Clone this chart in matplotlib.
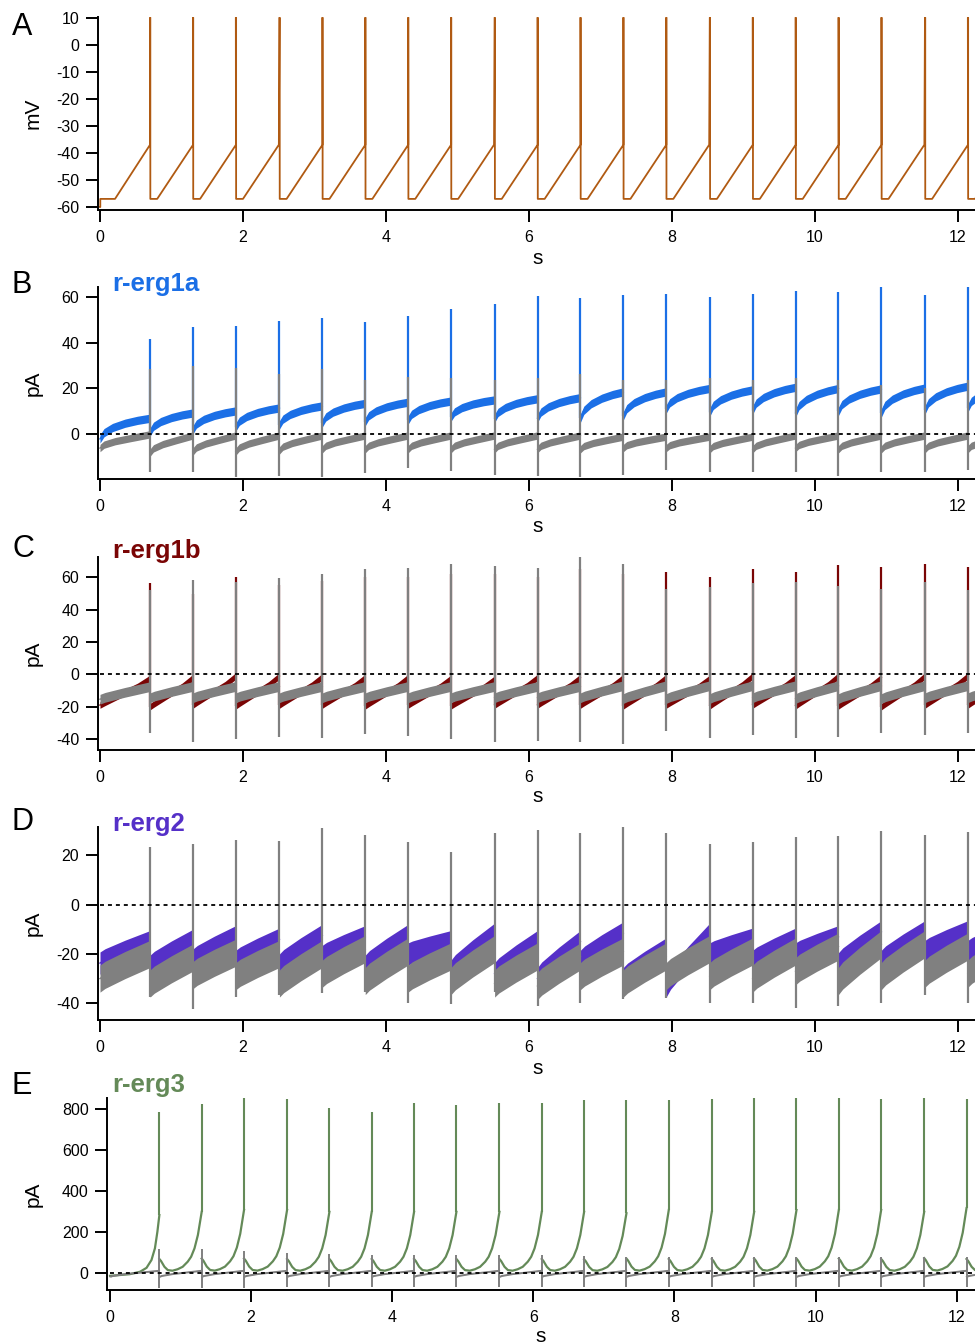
import numpy as np
import matplotlib
matplotlib.use("Agg")
import matplotlib.pyplot as plt

plt.rcParams['font.family'] = ['Liberation Sans', 'DejaVu Sans']
plt.rcParams['axes.unicode_minus'] = False

# ---------------- data ----------------
spike_t = [0.70, 1.30, 1.90, 2.51, 3.11, 3.71, 4.31, 4.91, 5.52, 6.12,
           6.72, 7.32, 7.92, 8.53, 9.13, 9.73, 10.33, 10.93, 11.54, 12.14]
cycle_len = 0.602

# Panel A: voltage protocol (mV)
v_init = -60.0
v_hold = -57.0
v_ramp_top = -37.0
v_spike = 10.0
first_ramp_start = 0.21
hold_after_spike = 0.10
spike_width = 0.004

# Panel B: r-erg1a (pA) ; 21 segments (before first spike ... after last)
b_col_start = [-2.0, 1.0, 2.0, 3.2, 4.1, 5.0, 5.5, 6.2, 7.5, 7.0, 7.0,
               7.0, 8.0, 11.0, 9.7, 10.6, 9.3, 10.0, 9.3, 10.6, 11.5]
b_col_end = [7.0, 9.3, 10.2, 11.5, 12.4, 13.5, 14.0, 14.5, 15.0, 15.5, 16.0,
             18.5, 18.5, 20.0, 19.4, 20.5, 20.0, 19.8, 20.2, 21.0, 21.0]
b_col_peak = [41.6, 46.7, 47.2, 49.4, 50.6, 48.8, 51.6, 54.5, 56.8, 60.3,
              59.3, 60.7, 61.2, 60.0, 61.0, 62.5, 62.0, 64.8, 60.7, 64.5]
b_grey_start = [-6.0, -8.0, -7.5, -7.5, -7.0, -6.5, -6.5, -6.5, -6.5, -6.5, -6.5,
                -6.5, -6.0, -6.0, -6.5, -6.5, -6.0, -6.5, -6.5, -6.5, -6.5]
b_grey_end = [0.0, -0.5, -0.5, -0.5, -0.5, -0.5, -0.5, -0.5, -0.5, -0.5, -0.5,
              -1.0, -1.0, -1.0, -1.0, -0.5, -0.5, -0.5, -0.5, -0.5, -0.5]
b_grey_peak = [28.5, 29.8, 29.0, 26.3, 28.5, 23.7, 25.0, 24.5, 23.7, 24.7,
               26.3, 23.7, 23.7, 24.5, 23.7, 24.5, 23.7, 21.5, 20.0, 23.7]
b_grey_trough = [-16.3, -16.3, -18.8, -18.0, -18.5, -16.7, -14.8, -16.0, -17.8, -18.2,
                 -18.5, -17.8, -15.6, -16.3, -16.3, -16.3, -18.0, -16.3, -16.5, -15.6]

# Panel C: r-erg1b (pA)
c_col_start = [-19.0, -20.0, -19.0, -19.5, -19.0, -19.0, -19.5, -19.0, -19.5, -19.0, -19.0,
               -19.0, -19.5, -19.0, -19.5, -19.0, -19.5, -19.5, -20.0, -19.0, -19.0]
c_col_end = [-2.5, -2.0, -1.0, -1.0, -1.5, -2.0, -2.0, -2.5, -3.0, -2.0, -2.0,
             -2.0, -2.0, -2.5, -1.0, -2.0, -1.0, -2.0, -1.0, -1.0, -1.0]
c_col_peak = [56.2, 50.0, 60.0, 55.0, 58.0, 60.0, 60.0, 62.0, 62.0, 60.0,
              65.0, 62.0, 63.0, 60.4, 65.0, 63.5, 67.4, 66.1, 68.2, 66.5]
c_grey_start = [-15.4, -14.5, -14.5, -14.5, -14.5, -14.5, -14.5, -14.5, -14.5, -14.5, -14.5,
                -14.5, -15.0, -15.0, -15.0, -14.5, -15.0, -15.0, -15.0, -14.5, -14.5]
c_grey_end = [-7.6, -7.5, -7.5, -7.5, -7.5, -7.5, -7.5, -7.5, -7.5, -7.5, -7.5,
              -7.0, -7.0, -7.0, -7.0, -7.0, -7.0, -7.0, -7.0, -7.0, -7.0]
c_grey_peak = [52.0, 58.3, 57.3, 59.3, 62.3, 65.0, 66.0, 68.0, 67.0, 66.0,
               73.0, 68.2, 53.0, 54.0, 56.2, 57.3, 54.6, 52.6, 57.3, 52.0]
c_grey_trough = [-36.5, -41.6, -40.0, -38.6, -39.6, -37.0, -38.0, -40.0, -42.0, -41.0,
                 -42.0, -43.0, -34.8, -39.6, -37.5, -39.6, -38.6, -36.5, -37.5, -36.0]

# Panel D: r-erg2 (pA)
d_col_start = [-23.7, -25.0, -22.5, -23.0, -24.5, -21.0, -25.0, -20.0, -27.0, -28.0, -30.0,
               -23.0, -30.0, -33.0, -20.0, -23.0, -20.0, -24.0, -23.0, -19.0, -19.0]
d_col_end = [-15.0, -14.5, -13.0, -14.0, -12.5, -13.0, -12.5, -15.0, -12.0, -15.0, -15.0,
             -11.5, -18.0, -12.0, -14.0, -14.0, -13.0, -11.0, -11.0, -11.0, -11.0]
d_grey_start = [-30.0, -32.0, -28.6, -29.0, -32.0, -28.0, -31.0, -30.0, -31.0, -32.0, -33.0,
                -29.0, -32.0, -29.0, -29.0, -30.0, -27.0, -31.0, -29.0, -28.0, -28.0]
d_grey_end = [-20.0, -21.5, -19.5, -20.0, -20.0, -18.0, -19.0, -21.0, -18.0, -21.0, -21.0,
              -19.0, -21.0, -18.0, -19.0, -19.0, -17.0, -16.0, -16.0, -17.0, -17.0]
d_grey_peak = [23.5, 24.5, 26.2, 25.8, 31.2, 28.3, 25.3, 21.2, 28.9, 30.5,
               28.9, 31.4, 29.2, 24.6, 25.3, 27.6, 28.0, 29.9, 28.3, 29.4]
d_grey_trough = [-37.5, -42.3, -37.5, -36.6, -36.0, -35.3, -40.0, -40.3, -35.3, -41.0,
                 -39.8, -38.4, -38.0, -39.8, -39.8, -42.0, -41.2, -40.0, -36.6, -40.0]

# Panel E: r-erg3 (pA)
e_first_frac = [0.0, 0.40, 0.61, 0.74, 0.84, 0.91, 0.96, 1.0]
e_first_val = [-12.0, -4.0, 8.0, 27.0, 65.0, 122.0, 203.0, 284.0]
e_cycle_frac = [0.0, 0.04, 0.12, 0.20, 0.31, 0.43, 0.55, 0.67, 0.75, 0.83, 0.91, 1.0]
e_cycle_val = [70.0, 60.0, 32.0, 16.0, 13.0, 20.0, 32.0, 57.0, 81.0, 122.0, 187.0, 300.0]
e_col_end = [284, 300, 309, 309, 300, 300, 300, 300, 300, 300, 300,
             293, 309, 300, 300, 309, 309, 309, 300, 318, 300]
e_col_peak = [785, 824, 857, 850, 805, 785, 830, 820, 830, 830,
              845, 845, 845, 849, 853, 861, 853, 849, 853, 849]
e_grey_start = -16.0
e_grey_end = 14.0
e_grey_peak = [120, 120, 110, 100, 95, 90, 90, 90, 90, 90,
               85, 80, 80, 80, 80, 80, 80, 80, 80, 80]
e_grey_trough = [-72, -70, -70, -68, -68, -66, -66, -66, -66, -66,
                 -66, -65, -65, -65, -65, -65, -65, -65, -65, -65]

# cycle shape templates (fraction of cycle -> fraction of start->end change)
shape_b_col = ([0.0, 0.08, 0.25, 0.5, 0.75, 1.0], [0.0, 0.3, 0.55, 0.76, 0.9, 1.0])
shape_b_grey = ([0.0, 0.08, 0.3, 0.6, 1.0], [0.0, 0.25, 0.5, 0.72, 1.0])
shape_c_col = ([0.0, 0.1, 0.4, 0.75, 1.0], [0.0, 0.1, 0.38, 0.7, 1.0])
shape_c_grey = ([0.0, 0.1, 0.5, 1.0], [0.0, 0.15, 0.55, 1.0])
shape_d = ([0.0, 0.1, 0.5, 1.0], [0.0, 0.15, 0.55, 1.0])
shape_e_grey = ([0.0, 0.05, 0.3, 1.0], [0.0, 0.15, 0.45, 1.0])

# colours
C_A = '#B05A12'
C_BLUE = '#1B6FE6'
C_RED = '#7A0505'
C_PURPLE = '#5530C8'
C_GREEN = '#648A58'
C_GREY = '#808080'

W, H = 975, 1344
fig = plt.figure(figsize=(W / 100, H / 100), dpi=100)


def add_ax(left, top, right, bottom):
    return fig.add_axes([left / W, 1 - bottom / H, (right - left) / W, (bottom - top) / H])


def style(ax, xlim, ylim, yticks):
    ax.set_xlim(*xlim)
    ax.set_ylim(*ylim)
    for s in ['top', 'right']:
        ax.spines[s].set_visible(False)
    for s in ['left', 'bottom']:
        ax.spines[s].set_linewidth(1.4)
    ax.set_xticks([0, 2, 4, 6, 8, 10, 12])
    ax.set_yticks(yticks)
    ax.tick_params(axis='x', direction='out', length=8.5, width=1.4, labelsize=11.5, pad=6)
    ax.tick_params(axis='y', direction='out', length=8.5, width=1.4, labelsize=11.5, pad=5)
    ax.patch.set_alpha(0)


def seg_bounds(k):
    t0 = 0.0 if k == 0 else spike_t[k - 1]
    t1 = spike_t[k] if k < len(spike_t) else t0 + cycle_len
    return t0, t1


def seg_curve(k, shape, start, end):
    t0, t1 = seg_bounds(k)
    fr, vv = shape
    x = [t0 + f * (t1 - t0) for f in fr]
    y = [start + v * (end - start) for v in vv]
    return np.array(x), np.array(y)


def draw_banded(ax, shape, starts, ends, hw, color, z):
    for k in range(len(starts)):
        x, y = seg_curve(k, shape, starts[k], ends[k])
        ax.fill_between(x, y - hw, y + hw, color=color, lw=0, zorder=z)
        ax.plot(x, y, color=color, lw=1.0, zorder=z)


def draw_spikes(ax, lows, highs, color, z, lw=1.6):
    for k, t in enumerate(spike_t):
        ax.plot([t, t], [lows[k], highs[k]], color=color, lw=lw, zorder=z,
                solid_capstyle='butt')


def zero_line(ax, xmax):
    ax.plot([0, xmax], [0, 0], color='black', lw=1.3, ls=(0, (2.2, 2.2)), zorder=10)


def ftext(x, y, s, **kw):
    fig.text(x / W, 1 - y / H, s, **kw)


xl = (-0.028, 12.24)
xl_e = (-0.038, 12.26)

# ---------------- Panel A ----------------
axA = add_ax(98, 17, 975, 210)
tA = [0.0, spike_width, spike_width, first_ramp_start, spike_t[0]]
vA = [v_init, v_init, v_hold, v_hold, v_ramp_top]
for k, t in enumerate(spike_t):
    tA += [t, t + spike_width, t + spike_width, t + hold_after_spike, t + cycle_len]
    vA += [v_spike, v_spike, v_hold, v_hold, v_ramp_top]
axA.plot(tA, vA, color=C_A, lw=1.3)
style(axA, xl, (-61.1, 10.2), [-60, -50, -40, -30, -20, -10, 0, 10])

# ---------------- Panel B ----------------
axB = add_ax(98, 287, 975, 479.3)
draw_banded(axB, shape_b_col, b_col_start, b_col_end, 1.8, C_BLUE, 2)
draw_spikes(axB, [min(b_col_end[k], b_col_start[k + 1]) for k in range(20)], b_col_peak, C_BLUE, 2)
draw_banded(axB, shape_b_grey, b_grey_start, b_grey_end, 1.6, C_GREY, 3)
draw_spikes(axB, b_grey_trough, b_grey_peak, C_GREY, 3)
zero_line(axB, xl[1])
style(axB, xl, (-19.6, 64.2), [0, 20, 40, 60])

# ---------------- Panel C ----------------
axC = add_ax(98, 557.3, 975, 750)
draw_banded(axC, shape_c_col, c_col_start, c_col_end, 2.0, C_RED, 2)
draw_spikes(axC, [min(c_col_end[k], c_col_start[k + 1]) for k in range(20)], c_col_peak, C_RED, 2)
draw_banded(axC, shape_c_grey, c_grey_start, c_grey_end, 3.0, C_GREY, 3)
draw_spikes(axC, c_grey_trough, c_grey_peak, C_GREY, 3)
zero_line(axC, xl[1])
style(axC, xl, (-46.8, 72.4), [-40, -20, 0, 20, 40, 60])

# ---------------- Panel D ----------------
axD = add_ax(98, 827.3, 975, 1020)
draw_banded(axD, shape_d, d_col_start, d_col_end, 4.5, C_PURPLE, 2)
draw_banded(axD, shape_d, d_grey_start, d_grey_end, 5.5, C_GREY, 3)
draw_spikes(axD, d_grey_trough, d_grey_peak, C_GREY, 3)
zero_line(axD, xl[1])
style(axD, xl, (-46.8, 31.4), [-40, -20, 0, 20])

# ---------------- Panel E ----------------
axE = add_ax(107.3, 1098.3, 975, 1290)
for k in range(21):
    t0, t1 = seg_bounds(k)
    if k == 0:
        fr, vv = e_first_frac, e_first_val
        scale = 1.0
    else:
        fr, vv = e_cycle_frac, e_cycle_val
        scale = e_col_end[k] / e_cycle_val[-1]
    x = [t0 + f * (t1 - t0) for f in fr]
    y = [v * scale for v in vv]
    axE.plot(x, y, color=C_GREEN, lw=1.6, zorder=2)
draw_spikes(axE, [e_col_end[k] for k in range(20)], e_col_peak, C_GREEN, 2, lw=1.5)
for k in range(21):
    x, y = seg_curve(k, shape_e_grey, e_grey_start, e_grey_end)
    axE.fill_between(x, y - 3.5, y + 3.5, color=C_GREY, lw=0, zorder=3)
    axE.plot(x, y, color=C_GREY, lw=1.0, zorder=3)
draw_spikes(axE, e_grey_trough, e_grey_peak, C_GREY, 3, lw=1.4)
zero_line(axE, xl_e[1])
style(axE, xl_e, (-81, 853), [0, 200, 400, 600, 800])

# ---------------- texts ----------------
for lab, yb in zip(['A', 'B', 'C', 'D', 'E'], [35, 293, 557, 830, 1094]):
    ftext(12, yb, lab, fontsize=22, va='baseline', ha='left')

for name, col, yb in zip(['r-erg1a', 'r-erg1b', 'r-erg2', 'r-erg3'],
                         [C_BLUE, C_RED, C_PURPLE, C_GREEN],
                         [291, 558, 831, 1092]):
    ftext(112, yb, name, fontsize=18.5, fontweight='bold', color=col, va='baseline', ha='left')

for lab, yc in zip(['mV', 'pA', 'pA', 'pA', 'pA'], [113, 383, 653, 923, 1194]):
    ftext(33, yc, lab, fontsize=15, rotation=90, va='center', ha='center')

for xc, yc in zip([538, 538, 538, 538, 541], [258, 527, 797, 1068, 1336]):
    ftext(xc, yc, 's', fontsize=15, va='center', ha='center')

fig.savefig('out.png', dpi=100, facecolor='white')
